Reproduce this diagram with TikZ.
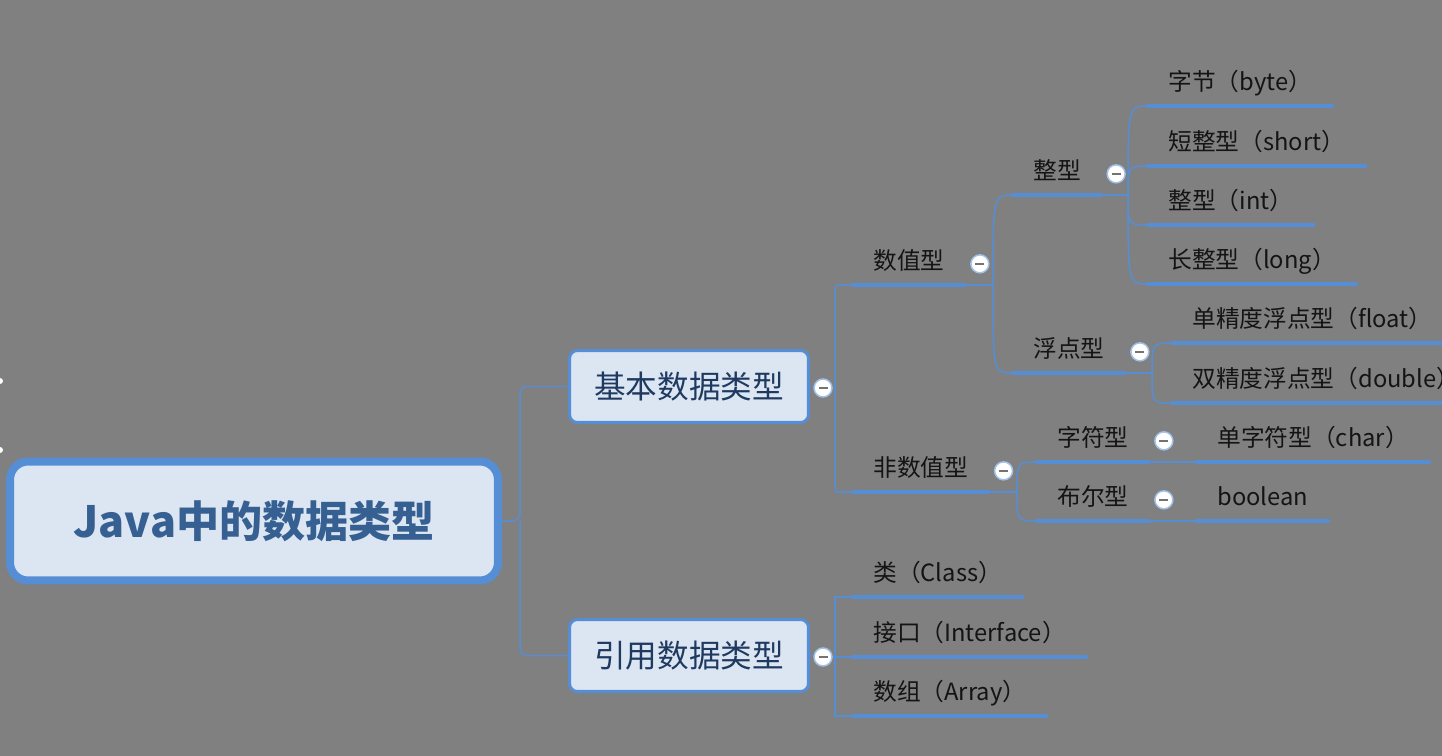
\documentclass[tikz,border=0pt]{standalone}
\usepackage{fontspec}
\setmainfont{Noto Sans CJK SC}
\usepackage{tikz}
\usetikzlibrary{calc}
\usepackage{xcolor}

\definecolor{bggray}{HTML}{808080}
\definecolor{lineblue}{HTML}{558ED5}
\definecolor{boxfill}{HTML}{DCE6F2}
\definecolor{roottext}{HTML}{376092}
\definecolor{boxtext}{HTML}{1F3A60}

\tikzset{
  link/.style={draw=lineblue, line width=0.03cm},
  uline/.style={draw=lineblue, line width=0.08cm, line cap=round},
  leaf/.style={anchor=south west, inner xsep=0.4cm, inner ysep=0.24cm,
    text height=0.8em, text depth=0.2em, text=black!92,
    font=\fontsize{13.5}{16}\selectfont},
  topic/.style={draw=lineblue, line width=0.06cm, fill=boxfill,
    rounded corners=0.16cm, minimum width=4.78cm, minimum height=1.44cm,
    text=boxtext, font=\fontsize{18}{22}\selectfont},
  rootbox/.style={draw=lineblue, line width=0.16cm, fill=boxfill,
    rounded corners=0.36cm, minimum width=9.76cm, minimum height=2.38cm,
    text=roottext, font=\fontsize{24.5}{28}\selectfont\bfseries},
  fold/.style={circle, fill=white, draw=lineblue!55, line width=0.03cm,
    minimum size=0.36cm, inner sep=0pt,
    path picture={\draw[gray!90!black, line width=0.05cm]
      ([xshift=-0.09cm]path picture bounding box.center) --
      ([xshift=0.09cm]path picture bounding box.center);}}
}

\begin{document}
\begin{tikzpicture}[x=0.02cm, y=-0.02cm]
    \useasboundingbox (0,0) rectangle (1442,756);
    \clip (0,0) rectangle (1442,756);
    \fill[bggray] (0,0) rectangle (1442,756);
    \fill[white] (0,381) circle (0.06cm);
    \fill[white] (0,450) circle (0.06cm);

    % root and main topics
    \node[rootbox] (root) at (254,521) {Java中的数据类型};
    \node[topic] (jiben) at (689,386.5) {基本数据类型};
    \node[topic] (yinyong) at (689,655.5) {引用数据类型};

    \draw[link, rounded corners=0.14cm] (root.east) -- (520,521) |- (jiben.west);
    \draw[link, rounded corners=0.14cm] (520,521) |- (yinyong.west);

    % basic types
    \node[leaf] (shuzhi) at (853,285) {数值型};
    \node[leaf] (feishuzhi) at (853,492) {非数值型};
    \coordinate (jfork) at (835,388);
    \draw[link] (jiben.east) -- (jfork);
    \draw[link, rounded corners=0.06cm] (jfork) |- (shuzhi.south west);
    \draw[link, rounded corners=0.06cm] (jfork) |- (feishuzhi.south west);

    \node[leaf] (zheng) at (1013,195) {整型};
    \node[leaf] (fudian) at (1013,373) {浮点型};
    \coordinate (sfork) at (993,285);
    \draw[link] (shuzhi.south east) -- (sfork);
    \foreach \c in {zheng, fudian}
      \draw[link] (sfork) .. controls (sfork |- \c.south west) .. (\c.south west);

    \node[leaf] (byte) at (1148,106) {字节（byte）};
    \node[leaf] (short) at (1148,166) {短整型（short）};
    \node[leaf] (int) at (1148,225) {整型（int）};
    \node[leaf] (long) at (1148,284) {长整型（long）};
    \coordinate (zfork) at (1128,195);
    \draw[link] (zheng.south east) -- (zfork);
    \foreach \c in {byte, short, int, long}
      \draw[link] (zfork) .. controls (zfork |- \c.south west) .. (\c.south west);

    \node[leaf] (float) at (1172,343) {单精度浮点型（float）};
    \node[leaf] (double) at (1172,403) {双精度浮点型（double）};
    \coordinate (ffork) at (1152,373);
    \draw[link] (fudian.south east) -- (ffork);
    \foreach \c in {float, double}
      \draw[link] (ffork) .. controls (ffork |- \c.south west) .. (\c.south west);

    \node[leaf] (zifu) at (1037,462) {字符型};
    \node[leaf] (buer) at (1037,521) {布尔型};
    \coordinate (nfork) at (1017,492);
    \draw[link] (feishuzhi.south east) -- (nfork);
    \foreach \c in {zifu, buer}
      \draw[link] (nfork) .. controls (nfork |- \c.south west) .. (\c.south west);

    \node[leaf] (char) at (1197,462) {单字符型（char）};
    \node[leaf] (boolean) at (1197,521) {boolean};
    \draw[link] (zifu.south east) -- (char.south west);
    \draw[link] (buer.south east) -- (boolean.south west);

    % reference types
    \node[leaf] (class) at (853,597) {类（Class）};
    \node[leaf] (iface) at (853,657) {接口（Interface）};
    \node[leaf] (array) at (853,716) {数组（Array）};
    \coordinate (yfork) at (835,657);
    \draw[link] (yinyong.east) -- (yfork);
    \draw[link] (yfork) |- (class.south west);
    \draw[link] (yfork) -- (iface.south west);
    \draw[link] (yfork) |- (array.south west);

    % underlines
    \foreach \n in {shuzhi, feishuzhi, zheng, fudian, byte, short, int, long,
                    float, double, zifu, buer, char, boolean, class, iface, array}
      \draw[uline] (\n.south west) -- (\n.south east);

    % fold marks
    \node[fold] (fjiben) at (823,388) {};
    \node[fold] (fyinyong) at (823,657) {};
    \node[fold] (fshuzhi) at ($(shuzhi.east)+(15,0)$) {};
    \node[fold] (ffeishuzhi) at ($(feishuzhi.east)+(15,0)$) {};
    \node[fold] (fzheng) at ($(zheng.east)+(15,0)$) {};
    \node[fold] (ffudian) at ($(fudian.east)+(15,0)$) {};
    \node[fold] (fzifu) at ($(zifu.east)+(15,0)$) {};
    \node[fold] (fbuer) at ($(buer.east)+(15,0)$) {};
\end{tikzpicture}
\end{document}
